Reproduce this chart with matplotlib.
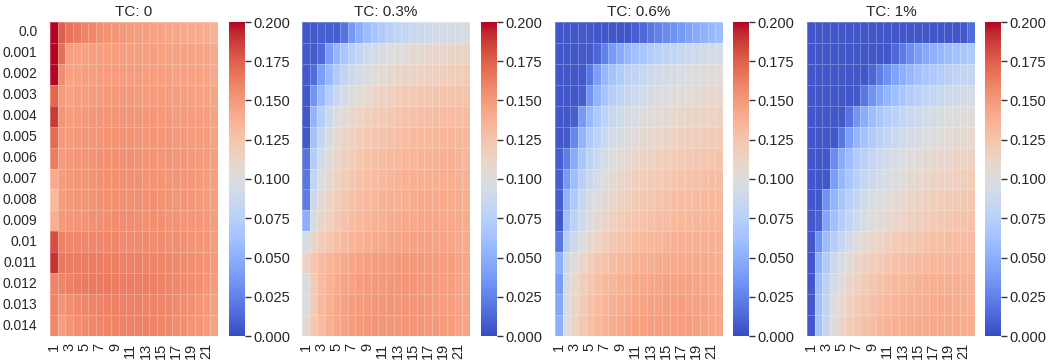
import matplotlib
matplotlib.use("Agg")
from matplotlib import pyplot as plt
import numpy as np
import seaborn as sns

sns.set_theme(style="darkgrid")
plt.rcParams['font.family'] = ['Liberation Sans', 'DejaVu Sans']

# windows on the x axis, thresholds on the y axis
windows = list(range(1, 23))
thresholds = ["0.0", "0.001", "0.002", "0.003", "0.004", "0.005", "0.006", "0.007",
              "0.008", "0.009", "0.01", "0.011", "0.012", "0.013", "0.014"]
titles = ["TC: 0", "TC: 0.3%", "TC: 0.6%", "TC: 1%"]

# values in thousandths
tc_0 = [
    [205, 175, 166, 164, 160, 158, 155, 153, 151, 150, 149, 148, 147, 146, 145, 144, 143, 142, 141, 140, 139, 137],
    [210, 168, 147, 146, 146, 147, 147, 147, 147, 147, 147, 147, 147, 147, 146, 146, 146, 145, 145, 144, 144, 142],
    [208, 156, 146, 146, 147, 147, 148, 148, 148, 148, 148, 148, 148, 147, 147, 147, 146, 146, 145, 145, 144, 142],
    [172, 149, 146, 147, 148, 149, 149, 150, 150, 150, 150, 149, 149, 149, 149, 148, 148, 147, 147, 146, 146, 144],
    [188, 151, 148, 149, 150, 151, 152, 152, 152, 152, 152, 151, 151, 151, 150, 150, 149, 149, 148, 148, 147, 145],
    [170, 150, 149, 150, 151, 152, 153, 153, 153, 153, 153, 152, 152, 152, 151, 151, 150, 150, 149, 149, 148, 146],
    [163, 149, 150, 151, 152, 153, 154, 154, 154, 154, 154, 153, 153, 153, 152, 152, 151, 151, 150, 150, 149, 147],
    [141, 149, 150, 151, 152, 153, 154, 154, 154, 154, 154, 154, 153, 153, 153, 152, 152, 151, 151, 150, 149, 147],
    [132, 149, 150, 151, 152, 153, 154, 154, 155, 155, 155, 154, 154, 154, 153, 153, 152, 152, 151, 150, 149, 147],
    [138, 150, 151, 152, 153, 154, 155, 155, 156, 156, 156, 155, 155, 155, 154, 153, 153, 152, 152, 151, 150, 148],
    [182, 161, 158, 158, 158, 158, 158, 158, 158, 157, 157, 157, 157, 156, 156, 155, 155, 154, 153, 152, 151, 149],
    [190, 165, 163, 163, 163, 163, 163, 162, 162, 161, 161, 161, 160, 160, 159, 158, 157, 156, 155, 154, 153, 150],
    [160, 159, 161, 163, 164, 164, 164, 164, 163, 163, 163, 162, 162, 161, 160, 159, 158, 157, 156, 154, 152, 149],
    [160, 152, 155, 157, 159, 160, 160, 161, 161, 161, 161, 161, 160, 160, 159, 158, 157, 155, 154, 152, 150, 147],
    [158, 148, 152, 155, 157, 158, 159, 160, 160, 161, 161, 161, 161, 160, 159, 158, 156, 155, 153, 151, 149, 146],
]

tc_03 = [
    [5, 6, 8, 8, 8, 18, 38, 50, 58, 65, 71, 76, 80, 83, 86, 88, 90, 92, 93, 94, 95, 96],
    [6, 7, 14, 40, 55, 66, 76, 84, 89, 93, 96, 99, 101, 103, 105, 107, 108, 109, 110, 111, 112, 113],
    [6, 15, 40, 57, 70, 80, 88, 94, 98, 101, 104, 107, 109, 111, 113, 114, 115, 116, 117, 118, 119, 120],
    [5, 35, 57, 73, 85, 93, 99, 104, 108, 111, 114, 116, 118, 120, 121, 122, 123, 124, 125, 125, 126, 126],
    [5, 53, 73, 88, 97, 104, 109, 113, 116, 119, 121, 123, 125, 126, 127, 128, 129, 130, 130, 131, 131, 131],
    [5, 63, 83, 96, 105, 111, 115, 119, 122, 124, 126, 128, 129, 131, 132, 133, 133, 134, 134, 134, 134, 133],
    [18, 73, 90, 102, 110, 115, 119, 123, 126, 128, 130, 132, 133, 134, 135, 136, 136, 137, 137, 137, 136, 135],
    [20, 80, 97, 107, 114, 119, 123, 127, 129, 131, 133, 135, 136, 137, 138, 139, 139, 139, 139, 139, 138, 137],
    [22, 88, 104, 112, 118, 123, 127, 130, 132, 134, 136, 137, 138, 139, 140, 141, 141, 141, 141, 140, 140, 139],
    [50, 96, 109, 116, 122, 127, 130, 133, 135, 137, 138, 140, 141, 142, 142, 143, 143, 143, 142, 142, 141, 140],
    [95, 111, 119, 124, 129, 132, 135, 137, 139, 141, 142, 143, 144, 145, 145, 145, 145, 145, 144, 143, 142, 141],
    [113, 125, 130, 135, 139, 142, 144, 146, 147, 148, 149, 149, 150, 150, 150, 150, 149, 149, 148, 147, 145, 143],
    [96, 120, 131, 137, 141, 144, 146, 148, 149, 150, 150, 151, 151, 151, 151, 150, 150, 149, 148, 147, 145, 143],
    [96, 121, 133, 139, 143, 146, 148, 149, 150, 151, 151, 152, 152, 152, 151, 151, 150, 149, 148, 147, 146, 144],
    [106, 124, 131, 139, 143, 146, 148, 150, 151, 152, 152, 152, 152, 152, 152, 151, 150, 150, 149, 148, 146, 144],
]

tc_06 = [
    [5, 5, 5, 6, 6, 5, 5, 5, 5, 4, 8, 14, 20, 25, 30, 34, 38, 43, 47, 52, 56, 60],
    [5, 5, 5, 6, 7, 12, 25, 38, 47, 55, 62, 67, 72, 76, 79, 82, 85, 87, 89, 91, 93, 95],
    [5, 5, 5, 6, 20, 40, 55, 64, 71, 77, 81, 85, 88, 91, 93, 95, 97, 99, 100, 101, 102, 103],
    [5, 5, 5, 8, 35, 53, 65, 74, 80, 85, 89, 92, 95, 97, 99, 101, 103, 104, 105, 107, 108, 109],
    [5, 5, 8, 38, 57, 69, 78, 85, 90, 94, 97, 100, 102, 104, 106, 108, 109, 111, 112, 113, 114, 115],
    [5, 7, 28, 53, 68, 78, 86, 92, 96, 100, 103, 106, 108, 110, 112, 114, 115, 117, 118, 119, 120, 121],
    [8, 23, 48, 66, 78, 87, 93, 99, 103, 106, 109, 112, 114, 116, 118, 119, 121, 122, 123, 124, 125, 126],
    [8, 37, 60, 75, 86, 94, 100, 105, 109, 112, 115, 117, 119, 121, 123, 124, 126, 127, 128, 129, 130, 130],
    [8, 52, 70, 83, 93, 100, 106, 110, 114, 117, 120, 122, 124, 126, 127, 129, 130, 131, 132, 133, 133, 133],
    [6, 60, 77, 89, 99, 106, 111, 115, 119, 122, 124, 126, 128, 130, 131, 132, 133, 134, 135, 135, 135, 135],
    [20, 73, 87, 99, 107, 113, 118, 122, 125, 127, 130, 132, 133, 135, 136, 137, 138, 138, 138, 138, 138, 137],
    [50, 88, 100, 110, 117, 122, 126, 130, 132, 134, 136, 138, 139, 140, 141, 142, 142, 142, 142, 141, 140, 139],
    [40, 92, 107, 117, 123, 128, 132, 135, 137, 139, 141, 142, 143, 144, 145, 145, 145, 145, 144, 143, 142, 141],
    [45, 94, 110, 120, 126, 131, 135, 138, 140, 142, 143, 144, 145, 146, 147, 147, 147, 146, 146, 145, 143, 142],
    [50, 97, 112, 122, 128, 133, 137, 140, 142, 144, 145, 146, 147, 148, 148, 148, 148, 148, 147, 146, 144, 143],
]

tc_1 = [
    [5, 5, 5, 5, 5, 5, 5, 5, 5, 5, 5, 5, 5, 5, 5, 5, 5, 5, 5, 5, 5, 15],
    [5, 5, 5, 5, 5, 5, 5, 5, 5, 5, 5, 13, 22, 32, 40, 46, 51, 55, 59, 63, 66, 70],
    [5, 5, 5, 5, 5, 5, 5, 5, 12, 24, 34, 43, 50, 56, 61, 66, 70, 73, 76, 79, 82, 84],
    [5, 5, 5, 5, 5, 5, 6, 20, 34, 45, 54, 61, 67, 72, 76, 80, 83, 86, 88, 90, 92, 94],
    [5, 5, 5, 5, 5, 18, 35, 49, 59, 67, 73, 78, 82, 86, 89, 92, 94, 96, 98, 100, 101, 102],
    [5, 5, 5, 5, 20, 40, 54, 64, 71, 77, 82, 86, 90, 93, 96, 98, 100, 102, 104, 106, 107, 108],
    [5, 5, 5, 30, 47, 59, 69, 76, 82, 87, 91, 95, 98, 101, 103, 105, 107, 109, 110, 112, 113, 114],
    [5, 5, 5, 40, 55, 66, 75, 82, 88, 92, 96, 99, 102, 105, 107, 109, 111, 113, 114, 116, 117, 118],
    [5, 5, 33, 54, 67, 76, 84, 90, 95, 99, 103, 106, 109, 111, 113, 115, 117, 119, 120, 121, 122, 123],
    [5, 10, 44, 61, 73, 82, 89, 95, 100, 104, 107, 110, 113, 115, 117, 119, 121, 122, 124, 125, 126, 127],
    [5, 34, 59, 74, 85, 93, 100, 105, 109, 113, 116, 119, 121, 123, 125, 127, 128, 129, 130, 131, 131, 131],
    [5, 50, 71, 86, 96, 103, 109, 114, 118, 121, 124, 126, 128, 130, 132, 133, 134, 135, 135, 135, 135, 134],
    [5, 58, 77, 93, 103, 110, 116, 121, 124, 127, 130, 132, 134, 135, 137, 138, 138, 139, 139, 138, 138, 137],
    [5, 61, 81, 98, 108, 115, 120, 125, 128, 131, 133, 135, 137, 138, 139, 140, 140, 141, 141, 140, 139, 138],
    [5, 64, 84, 101, 111, 118, 123, 128, 131, 134, 136, 138, 139, 140, 141, 142, 142, 142, 142, 141, 140, 139],
]

W, H = 1050, 364
fig = plt.figure(figsize=(W / 100, H / 100), dpi=100)

heat_left = [50, 302, 555, 807]
cbar_left = [229, 481, 733, 985]
bottom, height = 28 / H, 314 / H
cb_ticks = np.arange(0, 0.2001, 0.025)

for i, data in enumerate([tc_0, tc_03, tc_06, tc_1]):
    ax = fig.add_axes([heat_left[i] / W, bottom, 168 / W, height])
    cax = fig.add_axes([cbar_left[i] / W, bottom, 16 / W, height])
    vals = np.array(data) / 1000
    sns.heatmap(vals, ax=ax, cbar_ax=cax, cmap="coolwarm", vmin=0, vmax=0.2,
                xticklabels=windows, yticklabels=thresholds if i == 0 else False,
                linewidths=0.4, linecolor=(1, 1, 1, 0.25))
    ax.set_xticks(np.arange(0, 22, 2) + 0.5)
    ax.set_xticklabels(windows[::2], rotation=90, fontsize=10.5)
    if i == 0:
        ax.set_yticklabels(thresholds, rotation=0, fontsize=10)
    ax.tick_params(axis="x", length=0, pad=5)
    ax.tick_params(axis="y", length=0, pad=9)
    ax.set_title(titles[i], fontsize=11, pad=4)
    cax.set_yticks(cb_ticks)
    cax.set_yticklabels(["%.3f" % t for t in cb_ticks], fontsize=10.5)
    cax.tick_params(axis="y", length=4, width=1, color="#333333", pad=2)

fig.savefig("out.png", dpi=100)
